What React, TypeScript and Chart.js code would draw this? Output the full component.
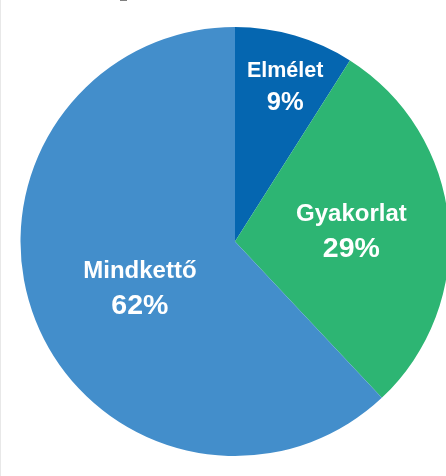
import React, { useEffect, useRef } from "react";
import { Chart, registerables } from "chart.js";

Chart.register(...registerables);

const categories = ["Elmélet", "Gyakorlat", "Mindkettő"];
const values = [9, 29, 62];
const colors = ["#0566B0", "#2DB573", "#438ECB"];
const nameSizes = [21.5, 24, 24];
const pctSizes = [25.5, 28.5, 28.5];
const labelFrac = [0.755, 0.545, 0.49];
const labelShift = [[5, 0], [0, 0], [2.6, 7.3]];

const labelPlugin = {
  id: "sliceLabels",
  afterDatasetsDraw(chart: any) {
    const ctx = chart.ctx;
    const meta = chart.getDatasetMeta(0);
    ctx.save();
    ctx.fillStyle = "#ffffff";
    ctx.textAlign = "center";
    ctx.textBaseline = "alphabetic";
    meta.data.forEach((arc: any, i: number) => {
      const p = arc.getProps(["x", "y", "startAngle", "endAngle", "outerRadius"], true);
      const mid = (p.startAngle + p.endAngle) / 2;
      const r = p.outerRadius * labelFrac[i];
      const cx = p.x + Math.cos(mid) * r + labelShift[i][0];
      const cy = p.y + Math.sin(mid) * r + labelShift[i][1];
      const ns = nameSizes[i];
      ctx.font = `bold ${ns}px "Liberation Sans", Arial, sans-serif`;
      ctx.fillText(categories[i], cx, cy - 0.4 * ns);
      ctx.font = `bold ${pctSizes[i]}px "Liberation Sans", Arial, sans-serif`;
      ctx.fillText(`${values[i]}%`, cx, cy + 1.1 * ns);
    });
    ctx.restore();
  },
};

export default function App() {
  const ref = useRef<HTMLCanvasElement | null>(null);
  useEffect(() => {
    if (!ref.current) return;
    const chart = new Chart(ref.current, {
      type: "pie",
      data: {
        labels: categories,
        datasets: [
          {
            data: values,
            backgroundColor: colors,
            borderWidth: 0,
            hoverOffset: 0,
            offset: 0,
          },
        ],
      },
      options: {
        animation: false,
        responsive: false,
        maintainAspectRatio: false,
        devicePixelRatio: 1,
        events: [],
        radius: 214.5,
        layout: { padding: { left: 20.5, right: 20.5, top: 27, bottom: 20 } },
        plugins: { legend: { display: false }, tooltip: { enabled: false } },
      } as any,
      plugins: [labelPlugin],
    });
    return () => chart.destroy();
  }, []);
  return (
    <div
      style={{
        position: "fixed",
        left: 0,
        top: 0,
        width: 446,
        height: 476,
        overflow: "hidden",
        background: "#ffffff",
      }}
    >
      <canvas ref={ref} width={470} height={476} style={{ display: "block", position: "absolute", left: 0, top: 0 }} />
      <div style={{ position: "absolute", left: 0, top: 0, width: 1, height: 476, background: "#e8e8e8" }} />
      <div style={{ position: "absolute", left: 120, top: 0, width: 7, height: 1, background: "#808080" }} />
    </div>
  );
}
